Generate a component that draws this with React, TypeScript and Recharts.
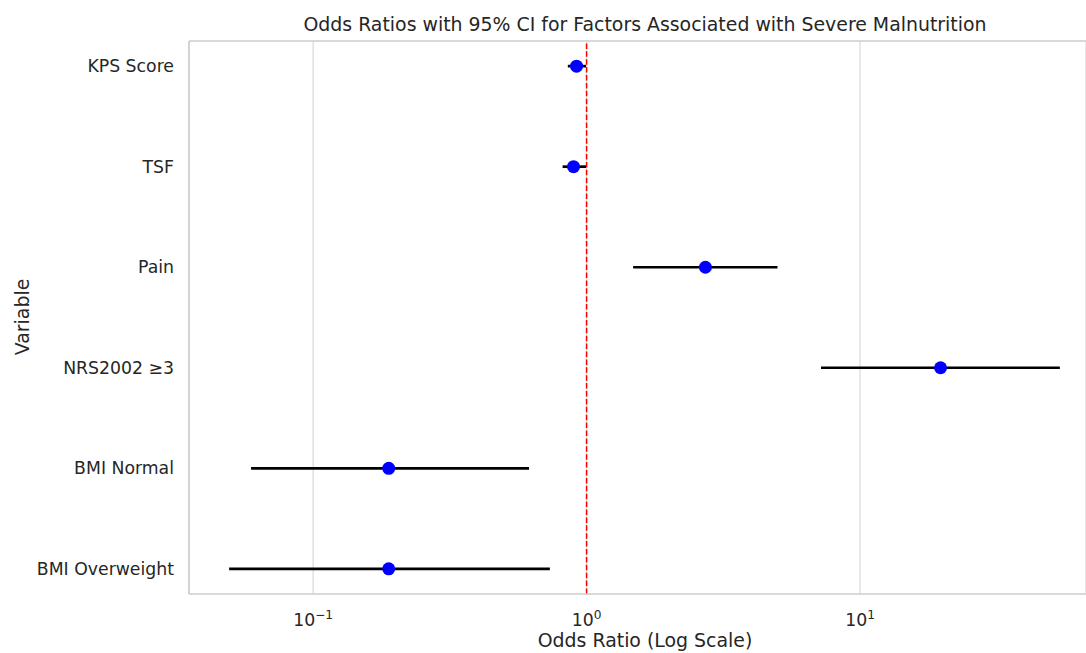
import React from "react";
import {
  ScatterChart,
  Scatter,
  XAxis,
  YAxis,
  CartesianGrid,
  ReferenceLine,
  ErrorBar,
} from "recharts";

const variables = ["KPS Score", "TSF", "Pain", "NRS2002 ≥3", "BMI Normal", "BMI Overweight"];
const oddsRatios = [0.919, 0.896, 2.72, 19.7, 0.189, 0.189];
const ciLower = [0.854, 0.817, 1.48, 7.2, 0.0593, 0.0493];
const ciUpper = [0.995, 0.995, 4.99, 53.8, 0.616, 0.734];
const xTicks = [0.1, 1, 10];

const rows = variables.map((v, i) => ({
  name: v,
  idx: i,
  or: oddsRatios[i],
  ci: [oddsRatios[i] - ciLower[i], ciUpper[i] - oddsRatios[i]],
}));

const TEXT = "#262626";
const FONT = "DejaVu Sans";

const XTick = (props: any) => {
  const { x, y, payload } = props;
  const exp = Math.round(Math.log10(payload.value));
  const expStr = exp < 0 ? "\u2212" + String(-exp) : String(exp);
  return (
    <text x={x} y={y + 32} textAnchor="middle" fill={TEXT} fontSize={17.3} fontFamily={FONT}>
      10
      <tspan dy={-7.5} fontSize={12.2}>
        {expStr}
      </tspan>
    </text>
  );
};

const YTick = (props: any) => {
  const { x, y, payload } = props;
  return (
    <text x={x - 15} y={y} textAnchor="end" dominantBaseline="central" fill={TEXT} fontSize={17.3} fontFamily={FONT}>
      {variables[payload.value]}
    </text>
  );
};

const Dot = (props: any) => <circle cx={props.cx} cy={props.cy} r={6.5} fill="#0000ff" />;
const Empty = () => <g />;

export default function App() {
  return (
    <div style={{ position: "absolute", left: 0, top: 0, width: 1086, height: 653, background: "#fff", fontFamily: FONT }}>
      <ScatterChart width={1086} height={653} margin={{ top: 41, right: 0, bottom: 0, left: 0 }}>
        <text x={645} y={24} textAnchor="middle" dominantBaseline="central" fill={TEXT} fontSize={18.9} fontFamily={FONT}>
          Odds Ratios with 95% CI for Factors Associated with Severe Malnutrition
        </text>
        <text x={645} y={640} textAnchor="middle" dominantBaseline="central" fill={TEXT} fontSize={18.9} fontFamily={FONT}>
          Odds Ratio (Log Scale)
        </text>
        <text
          x={22}
          y={317}
          textAnchor="middle"
          dominantBaseline="central"
          fill={TEXT}
          fontSize={18.9}
          fontFamily={FONT}
          transform="rotate(-90 22 317)"
        >
          Variable
        </text>
        <CartesianGrid horizontal={false} stroke="#dcdcdc" strokeWidth={1.3} />
        <XAxis
          type="number"
          dataKey="or"
          scale="log"
          domain={[0.03516, 67.05]}
          allowDataOverflow
          ticks={xTicks}
          tick={<XTick />}
          tickLine={false}
          tickSize={0}
          tickMargin={0}
          axisLine={{ stroke: "#cccccc", strokeWidth: 1.5 }}
          height={59}
        />
        <YAxis
          type="number"
          dataKey="idx"
          domain={[-0.25, 5.25]}
          reversed
          ticks={[0, 1, 2, 3, 4, 5]}
          tick={<YTick />}
          tickLine={false}
          tickSize={0}
          tickMargin={0}
          axisLine={{ stroke: "#cccccc", strokeWidth: 1.5 }}
          width={189}
        />
        <ReferenceLine y={-0.25} stroke="#cccccc" strokeWidth={1.5} />
        <ReferenceLine x={1} stroke="#ff0000" strokeWidth={1.5} strokeDasharray="5.5 2.4" />
        <Scatter data={rows} shape={<Dot />} isAnimationActive={false} />
        <Scatter data={rows} shape={<Empty />} isAnimationActive={false}>
          <ErrorBar dataKey="ci" direction="x" width={0} stroke="#000000" strokeWidth={2.7} isAnimationActive={false} />
        </Scatter>
      </ScatterChart>
    </div>
  );
}
